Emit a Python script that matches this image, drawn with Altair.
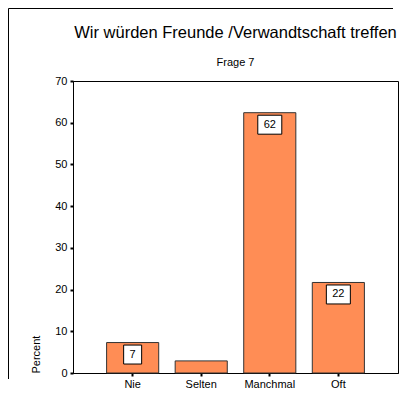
import altair as alt
import pandas as pd

categories = ["Nie", "Selten", "Manchmal", "Oft"]
percent = [7.3, 2.9, 62.4, 21.7]
bar_labels = ["7", "", "62", "22"]

title_text = "Wir würden Freunde /Verwandtschaft treffen"
subtitle_text = "Frage 7"
y_title = "Percent"
y_ticks = [0, 10, 20, 30, 40, 50, 60, 70]

df = pd.DataFrame({"cat": categories, "pct": percent, "label": bar_labels})

FONT = "Liberation Sans"

x_enc = alt.X("cat:N", sort=categories, title=None,
              scale=alt.Scale(paddingInner=0.24, paddingOuter=0.49),
              axis=alt.Axis(labelAngle=0, labelFontSize=11, labelColor="black",
                            labelFont=FONT, tickSize=3, tickWidth=2, tickColor="black",
                            domainColor="black", labelPadding=2))
y_enc = alt.Y("pct:Q", scale=alt.Scale(domain=[0, 70], nice=False),
              axis=alt.Axis(values=y_ticks, grid=False, title=y_title,
                            titleFont=FONT, titleFontSize=11, titleFontWeight="normal",
                            titleColor="black", titleAngle=270, titleAlign="left",
                            titleBaseline="middle", titleX=-37, titleY=292,
                            labelFontSize=11, labelColor="black", labelFont=FONT,
                            tickSize=3, tickWidth=2, tickColor="black",
                            domainColor="black", labelPadding=3))

base = alt.Chart(df)

bars = base.mark_bar(color="#FF8D55", stroke="#333333", strokeWidth=1).encode(
    x=x_enc, y=y_enc
)

wide = "M-1,-0.79L1,-0.79L1,0.79L-1,0.79Z"
narrow = "M-0.75,-0.79L0.75,-0.79L0.75,0.79L-0.75,0.79Z"

boxes = base.transform_filter("datum.label != ''").mark_point(
    filled=True, fill="white", stroke="black", strokeWidth=1, opacity=1,
    size=576, yOffset=12
).encode(
    x=alt.X("cat:N", sort=categories),
    y=alt.Y("pct:Q"),
    shape=alt.condition("length(datum.label) > 1", alt.value(wide), alt.value(narrow)),
)

texts = base.transform_filter("datum.label != ''").mark_text(
    font=FONT, fontSize=11, color="black", baseline="middle", align="center", yOffset=12
).encode(
    x=alt.X("cat:N", sort=categories),
    y=alt.Y("pct:Q"),
    text="label:N",
)

# outer frame (top and left edges; right/bottom lie beyond the picture)
one = alt.Data(values=[{"a": 1}])
frame_top = alt.Chart(one).mark_rule(color="black", strokeWidth=1).encode(
    x=alt.value(-64.5), x2=alt.value(320), y=alt.value(-72.5)
)
frame_left = alt.Chart(one).mark_rule(color="black", strokeWidth=1).encode(
    x=alt.value(-64.5), y=alt.value(-72.5), y2=alt.value(298)
)

chart = alt.layer(bars, boxes, texts, frame_top, frame_left).properties(
    width=325, height=292,
    title=alt.TitleParams(text=title_text, subtitle=subtitle_text, anchor="middle",
                          font=FONT, fontSize=16.5, fontWeight="normal", color="black",
                          subtitleFont=FONT, subtitleFontSize=11, subtitleColor="black",
                          subtitlePadding=16, offset=-60),
    autosize=alt.AutoSizeParams(type="none"),
    padding={"left": 65, "top": 73, "right": 3, "bottom": 15},
).configure(background="white", view=alt.ViewConfig(stroke="black", strokeWidth=1))

chart.save("out.html", embed_options={"renderer": "svg", "actions": False})
